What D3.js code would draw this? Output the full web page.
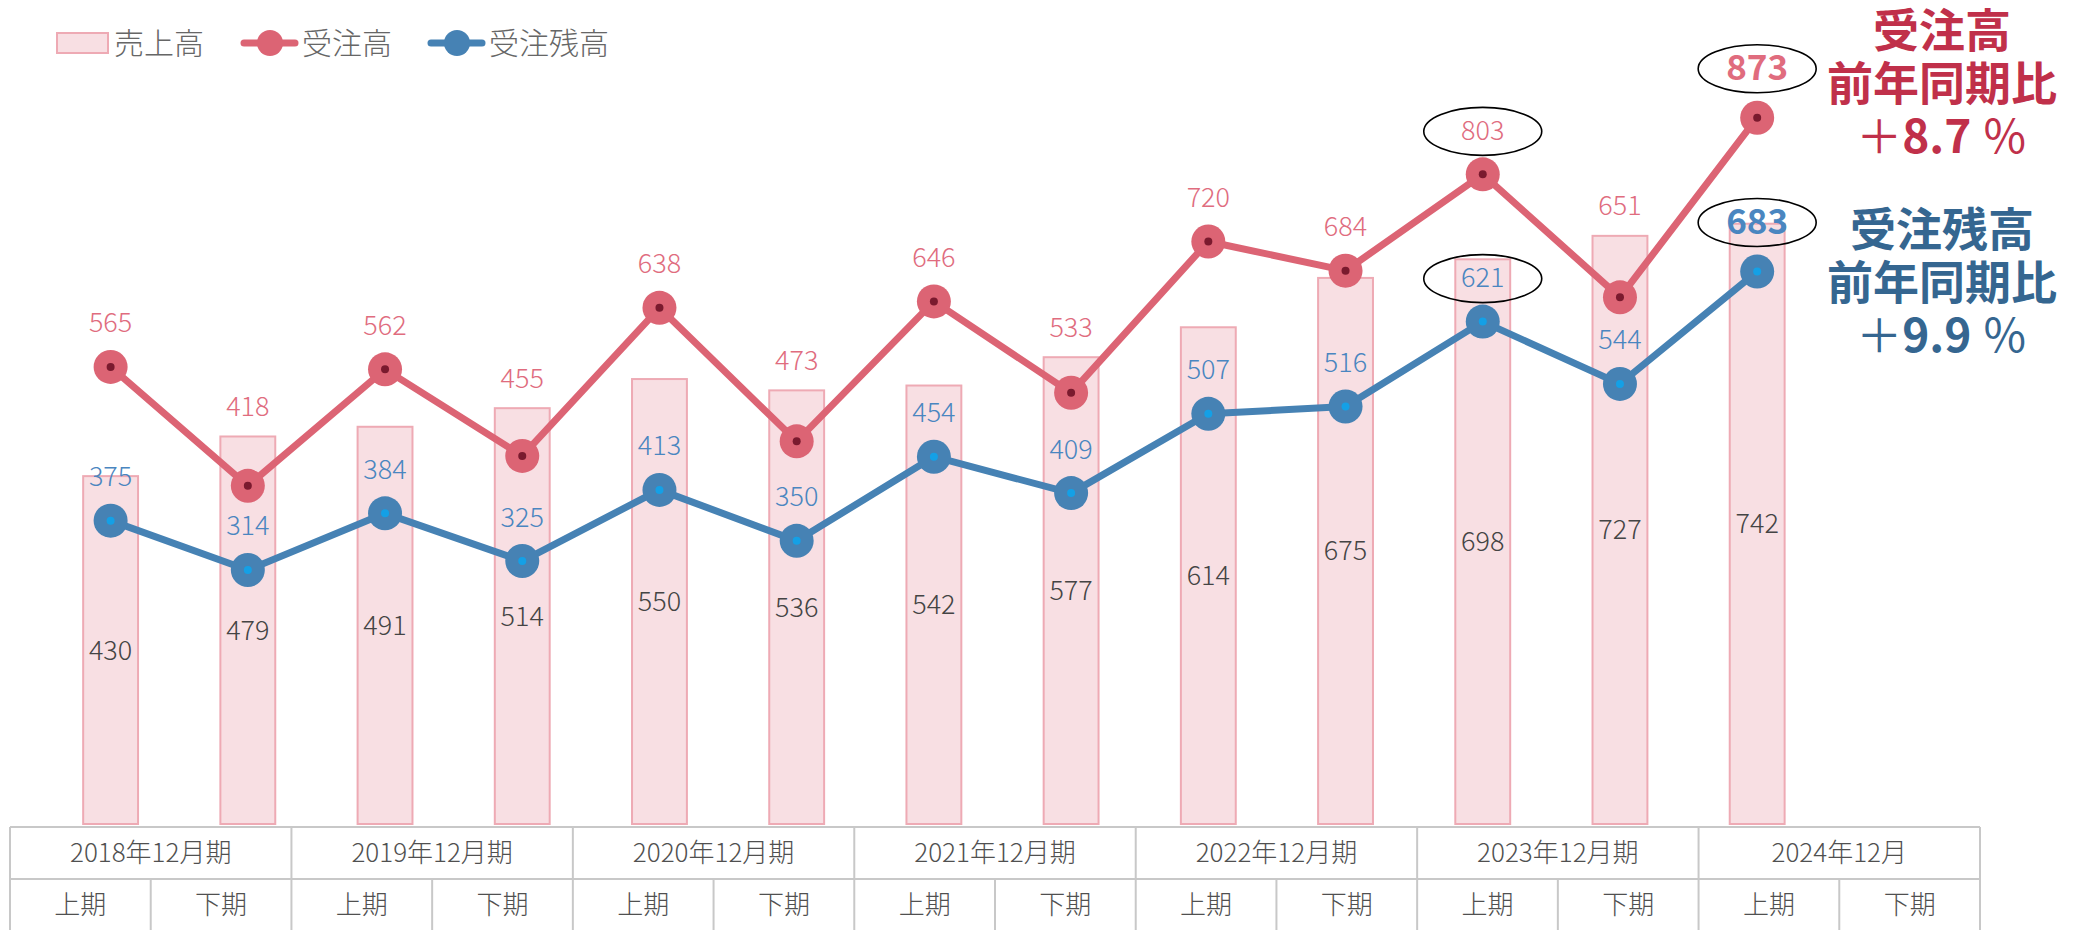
<!DOCTYPE html>
<html>
<head>
<meta charset="utf-8">
<script src="https://cdn.jsdelivr.net/npm/d3@7"></script>
<style>
  body { margin: 0; background: #fff; }
  svg text { font-family: "Noto Sans CJK JP", "Noto Sans", sans-serif; font-weight: 300; }
</style>
</head>
<body>
<div id="chart"></div>
<script>
// data
let periods = ['2018上','2018下','2019上','2019下','2020上','2020下','2021上','2021下',
               '2022上','2022下','2023上','2023下','2024上','2024下'];
let sales   = [430, 479, 491, 514, 550, 536, 542, 577, 614, 675, 698, 727, 742];
let orders  = [565, 418, 562, 455, 638, 473, 646, 533, 720, 684, 803, 651, 873];
let backlog = [375, 314, 384, 325, 413, 350, 454, 409, 507, 516, 621, 544, 683];
let yearLabels = ['2018年12月期','2019年12月期','2020年12月期','2021年12月期',
                  '2022年12月期','2023年12月期','2024年12月'];
let halfLabels = ['上期','下期'];
let circled = [10, 12];   // points with an ellipse round the label
let latest = 12;          // last point, bold label

let svgWidth = 2082;
let svgHeight = 930;

let pink = '#dc6474';
let blue = '#4682b4';

let svg = d3.select('#chart')
    .append('svg')
    .attr('width', svgWidth)
    .attr('height', svgHeight);

let x = d3.scaleBand()
    .domain(periods)
    .range([42, 1963])
    .paddingInner(0.6)
    .paddingOuter(0.3);

let y = d3.scaleLinear()
    .domain([0, 1000])
    .range([824, 824 - 809]);

let cx = (i) => x(periods[i]) + x.bandwidth() / 2;

// bars
svg.selectAll('rect.bar').data(sales)
    .enter().append('rect')
    .attr('class', 'bar')
    .attr('x', (d, i) => x(periods[i]))
    .attr('y', d => y(d))
    .attr('width', x.bandwidth())
    .attr('height', d => y(0) - y(d))
    .attr('fill', '#f8dfe3')
    .attr('stroke', '#eeaab4')
    .attr('stroke-width', 2);

svg.selectAll('text.barlabel').data(sales)
    .enter().append('text')
    .attr('x', (d, i) => cx(i))
    .attr('y', d => (y(d) + y(0)) / 2)
    .attr('dy', '0.35em')
    .attr('text-anchor', 'middle')
    .attr('font-size', 27)
    .attr('fill', '#444')
    .text(d => d);

// lines
function drawSeries(values, color, dotColor) {
    let line = d3.line()
        .x((d, i) => cx(i))
        .y(d => y(d));
    svg.append('path')
        .datum(values)
        .attr('d', line)
        .attr('fill', 'none')
        .attr('stroke', color)
        .attr('stroke-width', 7)
        .attr('stroke-linejoin', 'round');
    svg.append('g').selectAll('circle').data(values)
        .enter().append('circle')
        .attr('cx', (d, i) => cx(i))
        .attr('cy', d => y(d))
        .attr('r', 17)
        .attr('fill', color);
    svg.append('g').selectAll('circle').data(values)
        .enter().append('circle')
        .attr('cx', (d, i) => cx(i))
        .attr('cy', d => y(d))
        .attr('r', 4)
        .attr('fill', dotColor);
}
drawSeries(orders, pink, '#7a1a2e');
drawSeries(backlog, blue, '#14a0e6');

// point labels
function labelY(values, i, avoidBars) {
    let ly = y(values[i]) - (i == latest ? 50 : 44);
    if (avoidBars && i != latest) ly = Math.min(ly, y(sales[i]) - 30);
    return ly;
}

function drawLabels(values, color, avoidBars) {
    svg.append('g').selectAll('text').data(values)
        .enter().append('text')
        .attr('x', (d, i) => cx(i))
        .attr('y', (d, i) => labelY(values, i, avoidBars))
        .attr('dy', '0.35em')
        .attr('text-anchor', 'middle')
        .attr('font-size', (d, i) => i == latest ? 35 : 27)
        .style('font-weight', (d, i) => i == latest ? 'bold' : '300')
        .attr('fill', color)
        .text(d => d);
    svg.append('g').selectAll('ellipse').data(circled)
        .enter().append('ellipse')
        .attr('cx', i => cx(i))
        .attr('cy', i => labelY(values, i, avoidBars) + 1)
        .attr('rx', 59)
        .attr('ry', 24)
        .attr('fill', 'none')
        .attr('stroke', '#000')
        .attr('stroke-width', 1.6);
}
drawLabels(orders, '#e06c7e', true);
drawLabels(backlog, '#4a86c0', false);

// growth notes on the right
function note(lines, color, top) {
    let g = svg.append('g');
    lines.forEach(function(parts, k) {
        let t = g.append('text')
            .attr('x', 1942)
            .attr('y', top + k * 53)
            .attr('dy', '0.35em')
            .attr('text-anchor', 'middle')
            .attr('font-size', 46)
            .attr('fill', color);
        parts.forEach(p => t.append('tspan').style('font-weight', p[1]).text(p[0]));
    });
}
note([[['受注高', 'bold']], [['前年同期比', 'bold']], [['＋', '400'], ['8.7', 'bold'], [' ％', '400']]],
     '#c0304a', 31);
note([[['受注残高', 'bold']], [['前年同期比', 'bold']], [['＋', '400'], ['9.9', 'bold'], [' ％', '400']]],
     '#356690', 230);

// legend
let legend = svg.append('g').attr('font-size', 30).attr('fill', '#666');
legend.append('rect')
    .attr('x', 57).attr('y', 33).attr('width', 51).attr('height', 20)
    .attr('fill', '#f8dfe3').attr('stroke', '#eeaab4').attr('stroke-width', 2);
legend.append('text').attr('x', 114).attr('y', 43).attr('dy', '0.35em').text('売上高');
[[241, pink, '受注高'], [428, blue, '受注残高']].forEach(function(d) {
    legend.append('line')
        .attr('x1', d[0] + 3).attr('x2', d[0] + 54).attr('y1', 43).attr('y2', 43)
        .attr('stroke', d[1]).attr('stroke-width', 7).attr('stroke-linecap', 'round');
    legend.append('circle').attr('cx', d[0] + 29).attr('cy', 43).attr('r', 13).attr('fill', d[1]);
    legend.append('text').attr('x', d[0] + 61).attr('y', 43).attr('dy', '0.35em').text(d[2]);
});

// period table under the chart
let tx = d3.scaleBand().domain(periods).range([10, 1980]);
let table = svg.append('g');
let gridColor = '#c8c8c8';
table.append('line').attr('x1', 10).attr('x2', 1980).attr('y1', 827).attr('y2', 827)
    .attr('stroke', gridColor).attr('stroke-width', 2);
table.append('line').attr('x1', 10).attr('x2', 1980).attr('y1', 879).attr('y2', 879)
    .attr('stroke', gridColor).attr('stroke-width', 2);
periods.concat(['end']).forEach(function(p, i) {
    let xx = i < periods.length ? tx(p) : tx.range()[1];
    table.append('line')
        .attr('x1', xx).attr('x2', xx)
        .attr('y1', i % 2 == 0 ? 827 : 879).attr('y2', 930)
        .attr('stroke', gridColor).attr('stroke-width', 2);
});
table.selectAll('text.year').data(yearLabels)
    .enter().append('text')
    .attr('x', (d, i) => tx(periods[i * 2]) + tx.bandwidth())
    .attr('y', 853)
    .attr('dy', '0.35em')
    .attr('text-anchor', 'middle')
    .attr('font-size', 26)
    .attr('fill', '#505050')
    .text(d => d);
table.selectAll('text.half').data(periods)
    .enter().append('text')
    .attr('x', d => tx(d) + tx.bandwidth() / 2)
    .attr('y', 905)
    .attr('dy', '0.35em')
    .attr('text-anchor', 'middle')
    .attr('font-size', 26)
    .attr('fill', '#505050')
    .text((d, i) => halfLabels[i % 2]);
</script>
</body>
</html>
